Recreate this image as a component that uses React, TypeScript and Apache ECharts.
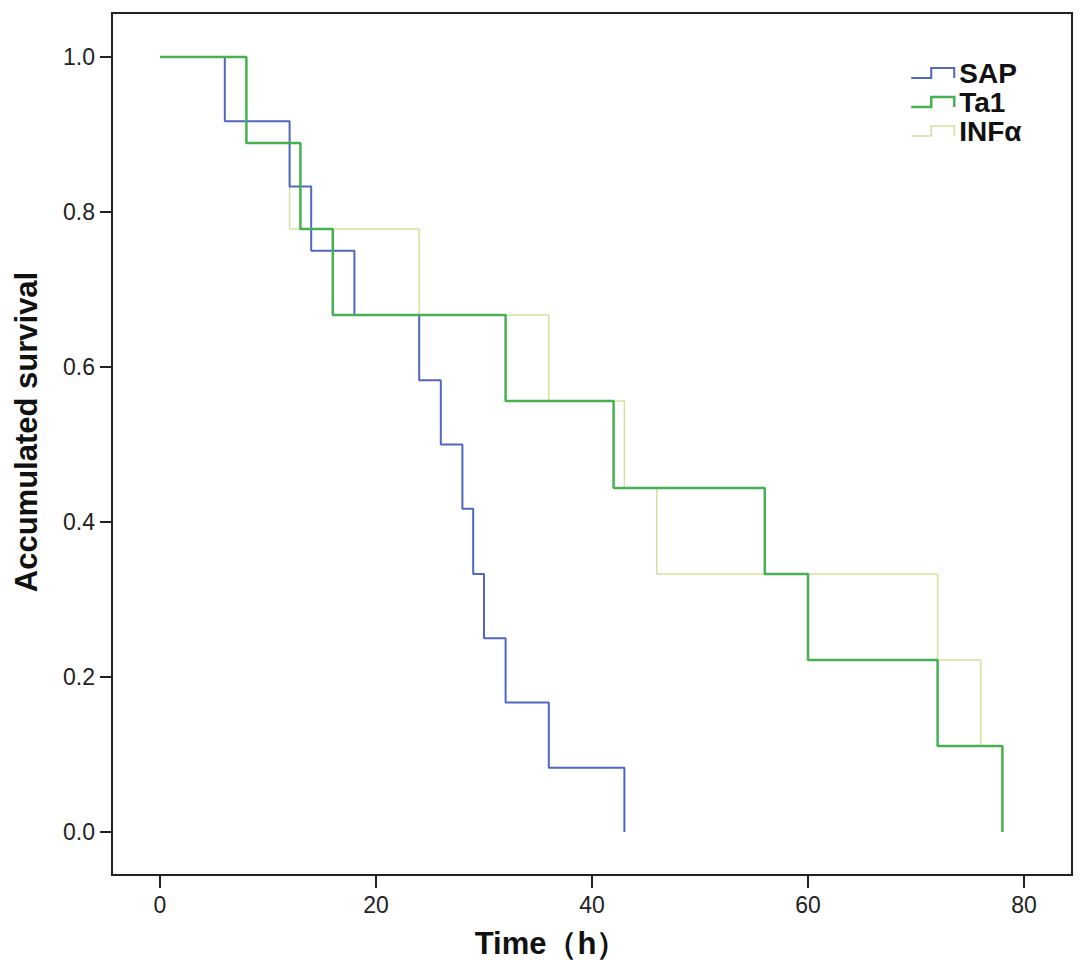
import React, { useEffect, useRef } from "react";
import * as echarts from "echarts";

const xTicks = [0, 20, 40, 60, 80];
const yTicks = [0, 0.2, 0.4, 0.6, 0.8, 1.0];

const sapTimes = [0, 6, 12, 14, 18, 24, 26, 28, 29, 30, 32, 36, 43];
const sapSurv = [1, 0.917, 0.833, 0.75, 0.667, 0.583, 0.5, 0.417, 0.333, 0.25, 0.167, 0.083, 0];

const ta1Times = [0, 8, 13, 16, 32, 42, 56, 60, 72, 78];
const ta1Surv = [1, 0.889, 0.778, 0.667, 0.556, 0.444, 0.333, 0.222, 0.111, 0];

const infTimes = [0, 8, 12, 24, 36, 43, 46, 72, 76, 78];
const infSurv = [1, 0.889, 0.778, 0.667, 0.556, 0.444, 0.333, 0.222, 0.111, 0];

const seriesNames = ["SAP", "Ta1", "INFα"];
const colors = ["#4f66c2", "#45b152", "#d7e09e"];
const widths = [2, 2.5, 1.5];

const FONT = "'Liberation Sans', Arial, sans-serif";
const STEP_ICON = "path://M0,10 L20,10 L20,0 L43,0 L43,10";

function zip(t: number[], s: number[]) {
  return t.map((v, i) => [v, s[i]]);
}

export default function App() {
  const ref = useRef<HTMLDivElement>(null);

  useEffect(() => {
    if (!ref.current) return;
    const chart = echarts.init(ref.current, undefined, { renderer: "svg" });
    const datasets = [zip(sapTimes, sapSurv), zip(ta1Times, ta1Surv), zip(infTimes, infSurv)];
    const zs = [3, 4, 2];
    chart.setOption({
      animation: false,
      backgroundColor: "#ffffff",
      grid: {
        left: 104,
        top: 5,
        right: 7,
        bottom: 89,
        show: true,
        borderColor: "#222",
        borderWidth: 2,
        backgroundColor: "transparent",
      },
      xAxis: {
        type: "value",
        position: "bottom",
        min: -4.444,
        max: 84.444,
        splitLine: { show: false },
        axisLine: { show: true, onZero: false, lineStyle: { color: "#222", width: 2 } },
        axisTick: {
          show: true,
          length: 13,
          inside: false,
          customValues: xTicks,
          lineStyle: { color: "#222", width: 2 },
        },
        axisLabel: {
          customValues: xTicks,
          margin: 18,
          color: "#222",
          fontSize: 23,
          fontFamily: FONT,
        },
      },
      yAxis: {
        type: "value",
        position: "left",
        min: -0.0555,
        max: 1.0568,
        splitLine: { show: false },
        axisLine: { show: true, onZero: false, lineStyle: { color: "#222", width: 2 } },
        axisTick: {
          show: true,
          length: 12,
          inside: false,
          customValues: yTicks,
          lineStyle: { color: "#222", width: 2 },
        },
        axisLabel: {
          customValues: yTicks,
          margin: 17,
          color: "#222",
          fontSize: 23,
          fontFamily: FONT,
          formatter: (v: number) => v.toFixed(1),
        },
      },
      legend: {
        orient: "vertical",
        left: 897,
        top: 46,
        itemGap: 1,
        itemWidth: 43,
        itemHeight: 10,
        icon: STEP_ICON,
        textStyle: {
          fontSize: 28,
          fontWeight: "bold",
          color: "#111",
          fontFamily: FONT,
        },
        data: seriesNames.map((n, i) => ({
          name: n,
          icon: STEP_ICON,
          itemStyle: { color: "transparent", borderColor: colors[i], borderWidth: widths[i] },
        })),
      },
      graphic: [
        {
          type: "text",
          x: 543,
          y: 935,
          style: {
            text: "Time（h）",
            fontSize: 31,
            fontWeight: "bold",
            fontFamily: FONT,
            fill: "#111",
            textAlign: "center",
            textVerticalAlign: "middle",
          },
        },
        {
          type: "text",
          x: 18,
          y: 424,
          rotation: Math.PI / 2,
          style: {
            text: "Accumulated survival",
            fontSize: 31,
            fontWeight: "bold",
            fontFamily: FONT,
            fill: "#111",
            textAlign: "center",
            textVerticalAlign: "middle",
          },
        },
      ],
      series: seriesNames.map((n, i) => ({
        name: n,
        type: "line",
        step: "end",
        showSymbol: false,
        symbol: "none",
        z: zs[i],
        data: datasets[i],
        lineStyle: { color: colors[i], width: widths[i] },
        itemStyle: { color: colors[i] },
      })),
    });
    return () => chart.dispose();
  }, []);

  return <div ref={ref} style={{ width: 1071, height: 956 }} />;
}
